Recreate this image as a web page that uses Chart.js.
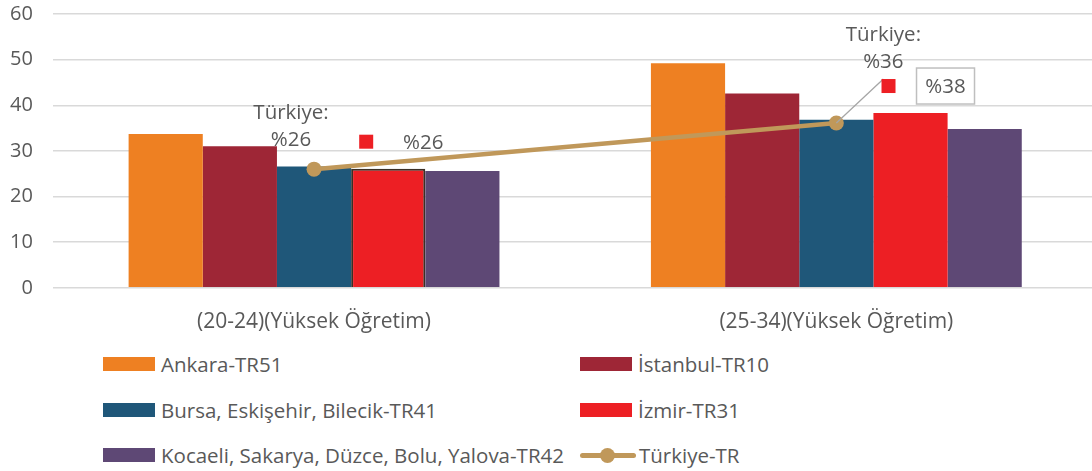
<!DOCTYPE html>
<html>
<head>
<meta charset="utf-8">
<script src="https://cdn.jsdelivr.net/npm/chart.js@4"></script>
<style>
  html, body { margin: 0; padding: 0; background: #fff; }
  body { width: 1092px; height: 471px; position: relative; overflow: hidden; font-family: 'Open Sans', sans-serif; }
  #wrap { position: absolute; left: -19px; top: -18px; width: 1124px; height: 367px; }
  .leg { position: absolute; display: flex; align-items: center; height: 24px; font-size: 20.5px; color: #595959; white-space: nowrap; }
  .leg .box { width: 52px; height: 14px; margin-right: 6px; }
  .leg .ln { width: 56px; height: 15px; margin-right: 3px; position: relative; }
  .leg .ln::before { content: ''; position: absolute; left: 0; right: 0; top: 5px; height: 5px; border-radius: 3px; background: #C0985A; }
  .leg .ln::after { content: ''; position: absolute; left: 20px; top: 0; width: 15px; height: 15px; border-radius: 50%; background: #C0985A; }
</style>
</head>
<body>
<div id="wrap"><canvas id="grafik"></canvas></div>
<div id="legend"></div>
<script>
// Veriler
const categories = ['(20-24)(Yüksek Öğretim)', '(25-34)(Yüksek Öğretim)'];
const ankara = [33.7, 49.2];
const istanbul = [31.0, 42.6];
const bursa = [26.6, 36.8];
const izmir = [26.1, 38.3];
const kocaeli = [25.6, 34.8];
const turkiye = [26.0, 36.1];
const yTicks = [0, 10, 20, 30, 40, 50, 60];

const seriesNames = ['Ankara-TR51', 'İstanbul-TR10', 'Bursa, Eskişehir, Bilecik-TR41', 'İzmir-TR31', 'Kocaeli, Sakarya, Düzce, Bolu, Yalova-TR42', 'Türkiye-TR'];
const colors = ['#EE8022', '#9E2636', '#1F5779', '#ED1F24', '#5E4875', '#C0985A'];
const FONT = "'Open Sans', sans-serif";
const GRAY = '#595959';

// Etiketler: Türkiye ve İzmir değerleri
const labelPlugin = {
    id: 'etiketler',
    afterDatasetsDraw(chart) {
        const ctx = chart.ctx;
        const y = chart.scales.y;
        ctx.save();
        ctx.font = '20.5px ' + FONT;
        ctx.fillStyle = GRAY;
        ctx.textAlign = 'center';
        ctx.textBaseline = 'middle';

        // Türkiye etiketleri (noktaya göre kaydırma)
        const trOff = [{ dx: -23, dy: -56 }, { dx: 47, dy: -88 }];
        chart.getDatasetMeta(5).data.forEach((pt, i) => {
            const o = trOff[i];
            if (i === 1) {
                ctx.strokeStyle = '#a6a6a6';
                ctx.lineWidth = 1.3;
                ctx.beginPath();
                ctx.moveTo(pt.x, pt.y);
                ctx.lineTo(pt.x + 47, pt.y - 44);
                ctx.stroke();
            }
            ctx.fillText('Türkiye:', pt.x + o.dx, pt.y + o.dy);
            ctx.fillText('%' + Math.round(turkiye[i]), pt.x + o.dx, pt.y + o.dy + 27);
        });

        // İzmir etiketleri (çubuğa göre kaydırma)
        chart.getDatasetMeta(3).data.forEach((bar, i) => {
            const top = y.getPixelForValue(izmir[i]);
            const cy = top - 27;
            ctx.fillStyle = colors[3];
            ctx.fillRect(bar.x - 29, cy - 7, 14, 14);
            const tx = bar.x + 35;
            if (i === 1) {
                ctx.strokeStyle = '#bfbfbf';
                ctx.lineWidth = 1.5;
                ctx.strokeRect(tx - 29, cy - 18, 58, 36);
            }
            ctx.fillStyle = GRAY;
            ctx.fillText('%' + Math.round(izmir[i]), tx, cy + 1);
        });
        ctx.restore();
    }
};

const barSet = (i, data, extra) => Object.assign({
    type: 'bar',
    label: seriesNames[i],
    data: data,
    backgroundColor: colors[i],
    borderWidth: 0,
    categoryPercentage: 0.71,
    barPercentage: 1,
    order: 1
}, extra || {});

const grafik = new Chart(document.getElementById('grafik'), {
    data: {
        labels: categories,
        datasets: [
            barSet(0, ankara),
            barSet(1, istanbul),
            barSet(2, bursa),
            barSet(3, izmir, { borderColor: '#3b2f25', borderWidth: [2, 0], borderSkipped: 'bottom' }),
            barSet(4, kocaeli),
            {
                type: 'line',
                label: seriesNames[5],
                data: turkiye,
                borderColor: colors[5],
                backgroundColor: colors[5],
                borderWidth: 4.5,
                pointRadius: 7.5,
                pointHoverRadius: 7.5,
                pointBackgroundColor: colors[5],
                pointBorderWidth: 0,
                order: 0
            }
        ]
    },
    options: {
        responsive: true,
        maintainAspectRatio: false,
        animation: false,
        layout: { padding: { top: 1, left: 9, right: 0, bottom: 0 } },
        plugins: {
            legend: { display: false },
            tooltip: { enabled: false }
        },
        scales: {
            x: {
                grid: { display: false },
                border: { display: false },
                ticks: { color: GRAY, font: { family: FONT, size: 21 }, padding: 14 }
            },
            y: {
                min: 0,
                max: 60,
                afterBuildTicks: axis => { axis.ticks = yTicks.map(v => ({ value: v })); },
                grid: { color: '#d9d9d9', lineWidth: 1.5, drawTicks: false },
                border: { display: false },
                ticks: { color: GRAY, font: { family: FONT, size: 20 }, padding: 20 }
            }
        }
    },
    plugins: [labelPlugin]
});

// Lejant (iki sütun)
const legendPos = [[103, 364], [580, 364], [103, 410], [580, 410], [103, 455], [580, 455]];
const legendEl = document.getElementById('legend');
seriesNames.forEach((name, i) => {
    const item = document.createElement('div');
    item.className = 'leg';
    item.style.left = legendPos[i][0] + 'px';
    item.style.top = (legendPos[i][1] - 12) + 'px';
    const mark = document.createElement('span');
    if (i === 5) {
        mark.className = 'ln';
    } else {
        mark.className = 'box';
        mark.style.background = colors[i];
    }
    const txt = document.createElement('span');
    txt.textContent = name;
    item.appendChild(mark);
    item.appendChild(txt);
    legendEl.appendChild(item);
});
</script>
</body>
</html>
